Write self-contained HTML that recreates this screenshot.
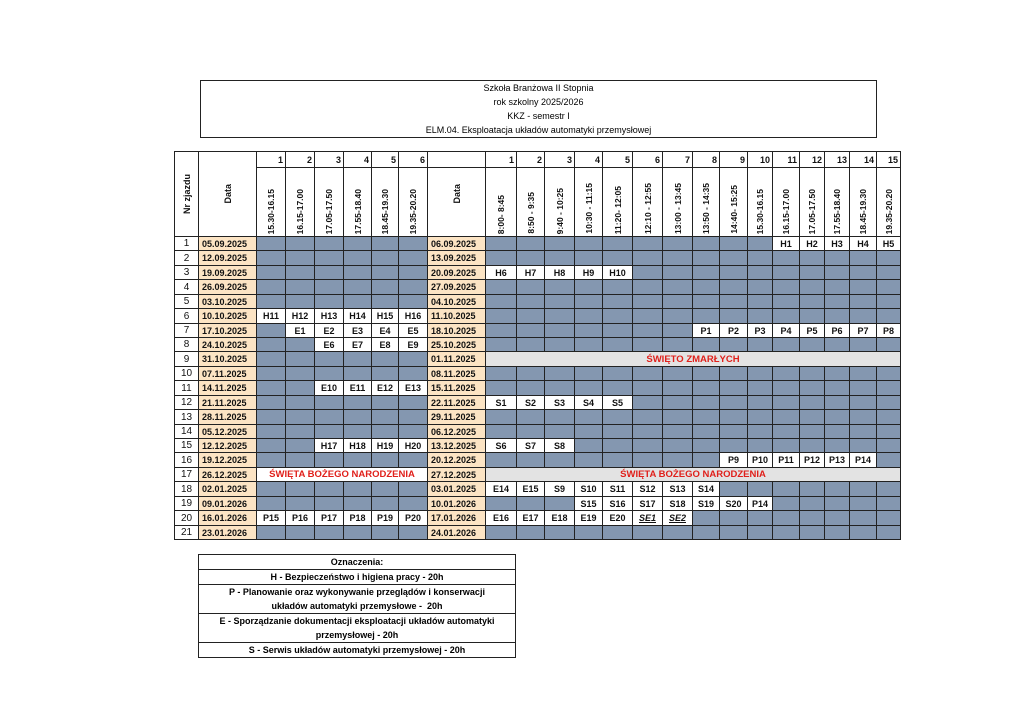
<!DOCTYPE html>
<html><head><meta charset="utf-8">
<style>
body{margin:0;width:1024px;height:724px;background:#fff;position:relative;overflow:hidden;font-family:"Liberation Sans",sans-serif;}
.c{position:absolute;box-sizing:border-box;border:1px solid #222;display:flex;align-items:center;justify-content:center;font-size:9px;font-weight:bold;color:#111;white-space:nowrap;margin:-1px 0 0 -1px;}
.b{background:#8497b0;}
.d{background:#fce4c4;}
.g{background:#e3e3e3;}
.red{color:#e0201b;font-size:9.5px;}
.rot{writing-mode:vertical-rl;transform:rotate(180deg);}
#title{position:absolute;left:200px;top:80px;width:677px;height:58px;border:1px solid #222;box-sizing:border-box;font-size:9px;text-align:center;line-height:14px;}
#title div{height:14px;line-height:14px;}
#legend{position:absolute;left:198px;top:554px;width:318px;border:1px solid #222;box-sizing:border-box;font-size:9px;font-weight:bold;text-align:center;}
#legend div{border-bottom:1px solid #222;line-height:14px;}
#legend div:last-child{border-bottom:none}
</style></head><body>
<div id="title">
<div>Szkoła Branżowa II Stopnia</div>
<div>rok szkolny 2025/2026</div>
<div>KKZ - semestr I</div>
<div>ELM.04. Eksploatacja układów automatyki przemysłowej</div>
</div>
<div id="grid"></div>
<div id="legend">
<div>Oznaczenia:</div>
<div>H - Bezpieczeństwo i higiena pracy - 20h</div>
<div>P - Planowanie oraz wykonywanie przeglądów i konserwacji<br>układów automatyki przemysłowe -&nbsp; 20h</div>
<div>E - Sporządzanie dokumentacji eksploatacji układów automatyki<br>przemysłowej - 20h</div>
<div>S - Serwis układów automatyki przemysłowej - 20h</div>
</div>
<script>
const friTimes=["15.30-16.15","16.15-17.00","17.05-17.50","17.55-18.40","18.45-19.30","19.35-20.20"];
const satTimes=["8:00- 8:45","8:50 - 9:35","9:40 - 10:25","10:30 - 11:15","11:20- 12:05","12:10 - 12:55","13:00 - 13:45","13:50 - 14:35","14:40- 15:25","15.30-16.15","16.15-17.00","17.05-17.50","17.55-18.40","18.45-19.30","19.35-20.20"];
const friDates=["05.09.2025","12.09.2025","19.09.2025","26.09.2025","03.10.2025","10.10.2025","17.10.2025","24.10.2025","31.10.2025","07.11.2025","14.11.2025","21.11.2025","28.11.2025","05.12.2025","12.12.2025","19.12.2025","26.12.2025","02.01.2025","09.01.2026","16.01.2026","23.01.2026"];
const satDates=["06.09.2025","13.09.2025","20.09.2025","27.09.2025","04.10.2025","11.10.2025","18.10.2025","25.10.2025","01.11.2025","08.11.2025","15.11.2025","22.11.2025","29.11.2025","06.12.2025","13.12.2025","20.12.2025","27.12.2025","03.01.2025","10.01.2026","17.01.2026","24.01.2026"];
const friRows=["","","","","","H11 H12 H13 H14 H15 H16","- E1 E2 E3 E4 E5","- - E6 E7 E8 E9","","","- - E10 E11 E12 E13","","","","- - H17 H18 H19 H20","","HOL","","","P15 P16 P17 P18 P19 P20",""];
const satRows=["- - - - - - - - - - H1 H2 H3 H4 H5","","H6 H7 H8 H9 H10","","","","- - - - - - - P1 P2 P3 P4 P5 P6 P7 P8","","HOL1","","","S1 S2 S3 S4 S5","","","S6 S7 S8","- - - - - - - - P9 P10 P11 P12 P13 P14","HOL2","E14 E15 S9 S10 S11 S12 S13 S14","- - - S15 S16 S17 S18 S19 S20 P14","E16 E17 E18 E19 E20 SE1 SE2",""];
const X=[175,199,257,286,315,344,372,399,428,486,517,545,575,603,633,663,693,720,748,773,800,825,850,877,901];
const RH=(540-237)/21;
const G=document.getElementById('grid');
function cell(x0,x1,y0,y1,txt,cls,name){
 const d=document.createElement('div');
 d.className='c '+(cls||'');
 d.style.left=x0+'px';d.style.top=y0+'px';d.style.width=(x1-x0+1)+'px';d.style.height=(y1-y0+1)+'px';
 d.innerHTML=txt;
 
 
 G.appendChild(d);return d;
}
cell(X[0],X[1],152,237,'<span class="rot">Nr zjazdu</span>','', 'header-nr');
cell(X[1],X[2],152,237,'<span class="rot">Data</span>','', 'header-date-fri');
cell(X[8],X[9],152,237,'<span class="rot">Data</span>','', 'header-date-sat');
for(let i=0;i<6;i++){const c=cell(X[2+i],X[3+i],152,168,String(i+1),'','header-slot-num');c.style.justifyContent='flex-end';c.style.paddingRight='2px';
 const t=cell(X[2+i],X[3+i],168,237,'<span class="rot" style="font-size:8.5px">'+friTimes[i]+'</span>','','header-slot-time');t.style.alignItems='flex-end';t.style.paddingBottom='2px';}
cell(X[8],X[9],152,168,'','','header-blank');
for(let i=0;i<15;i++){const c=cell(X[9+i],X[10+i],152,168,String(i+1),'','header-slot-num');c.style.justifyContent='flex-end';c.style.paddingRight='2px';
 const t=cell(X[9+i],X[10+i],168,237,'<span class="rot" style="font-size:8.5px">'+satTimes[i]+'</span>','','header-slot-time');t.style.alignItems='flex-end';t.style.paddingBottom='2px';}
for(let r=0;r<21;r++){
 const y0=Math.round(237+r*RH),y1=Math.round(237+(r+1)*RH);
 const n=cell(X[0],X[1],y0,y1,String(r+1),'','row-number');n.style.fontWeight='normal';n.style.fontSize='10px';
 const d1=cell(X[1],X[2],y0,y1,friDates[r],'d','friday-date');d1.style.justifyContent='flex-start';d1.style.paddingLeft='3px';
 const d2=cell(X[8],X[9],y0,y1,satDates[r],'d','saturday-date');d2.style.justifyContent='flex-start';d2.style.paddingLeft='3px';
 if(friRows[r]==='HOL'){cell(X[2],X[8],y0,y1,'ŚWIĘTA BOŻEGO NARODZENIA','red','holiday-christmas-fri');}
 else{const a=friRows[r]?friRows[r].split(' '):[];
  for(let i=0;i<6;i++){const v=a[i]&&a[i]!=='-'?a[i]:null;cell(X[2+i],X[3+i],y0,y1,v||'',v?'':'b',v?'class-'+v.toLowerCase():'empty-slot');}}
 if(satRows[r]==='HOL1'){cell(X[9],X[24],y0,y1,'ŚWIĘTO ZMARŁYCH','g red','holiday-all-saints');}
 else if(satRows[r]==='HOL2'){cell(X[9],X[24],y0,y1,'ŚWIĘTA BOŻEGO NARODZENIA','g red','holiday-christmas-sat');}
 else{const a=satRows[r]?satRows[r].split(' '):[];
  for(let i=0;i<15;i++){const v=a[i]&&a[i]!=='-'?a[i]:null;
   const c=cell(X[9+i],X[10+i],y0,y1,v||'',v?'':'b',v?'class-'+v.toLowerCase():'empty-slot');
   if(v&&v.startsWith('SE')){c.style.fontStyle='italic';c.style.textDecoration='underline';}}}
}
</script>
</body></html>
